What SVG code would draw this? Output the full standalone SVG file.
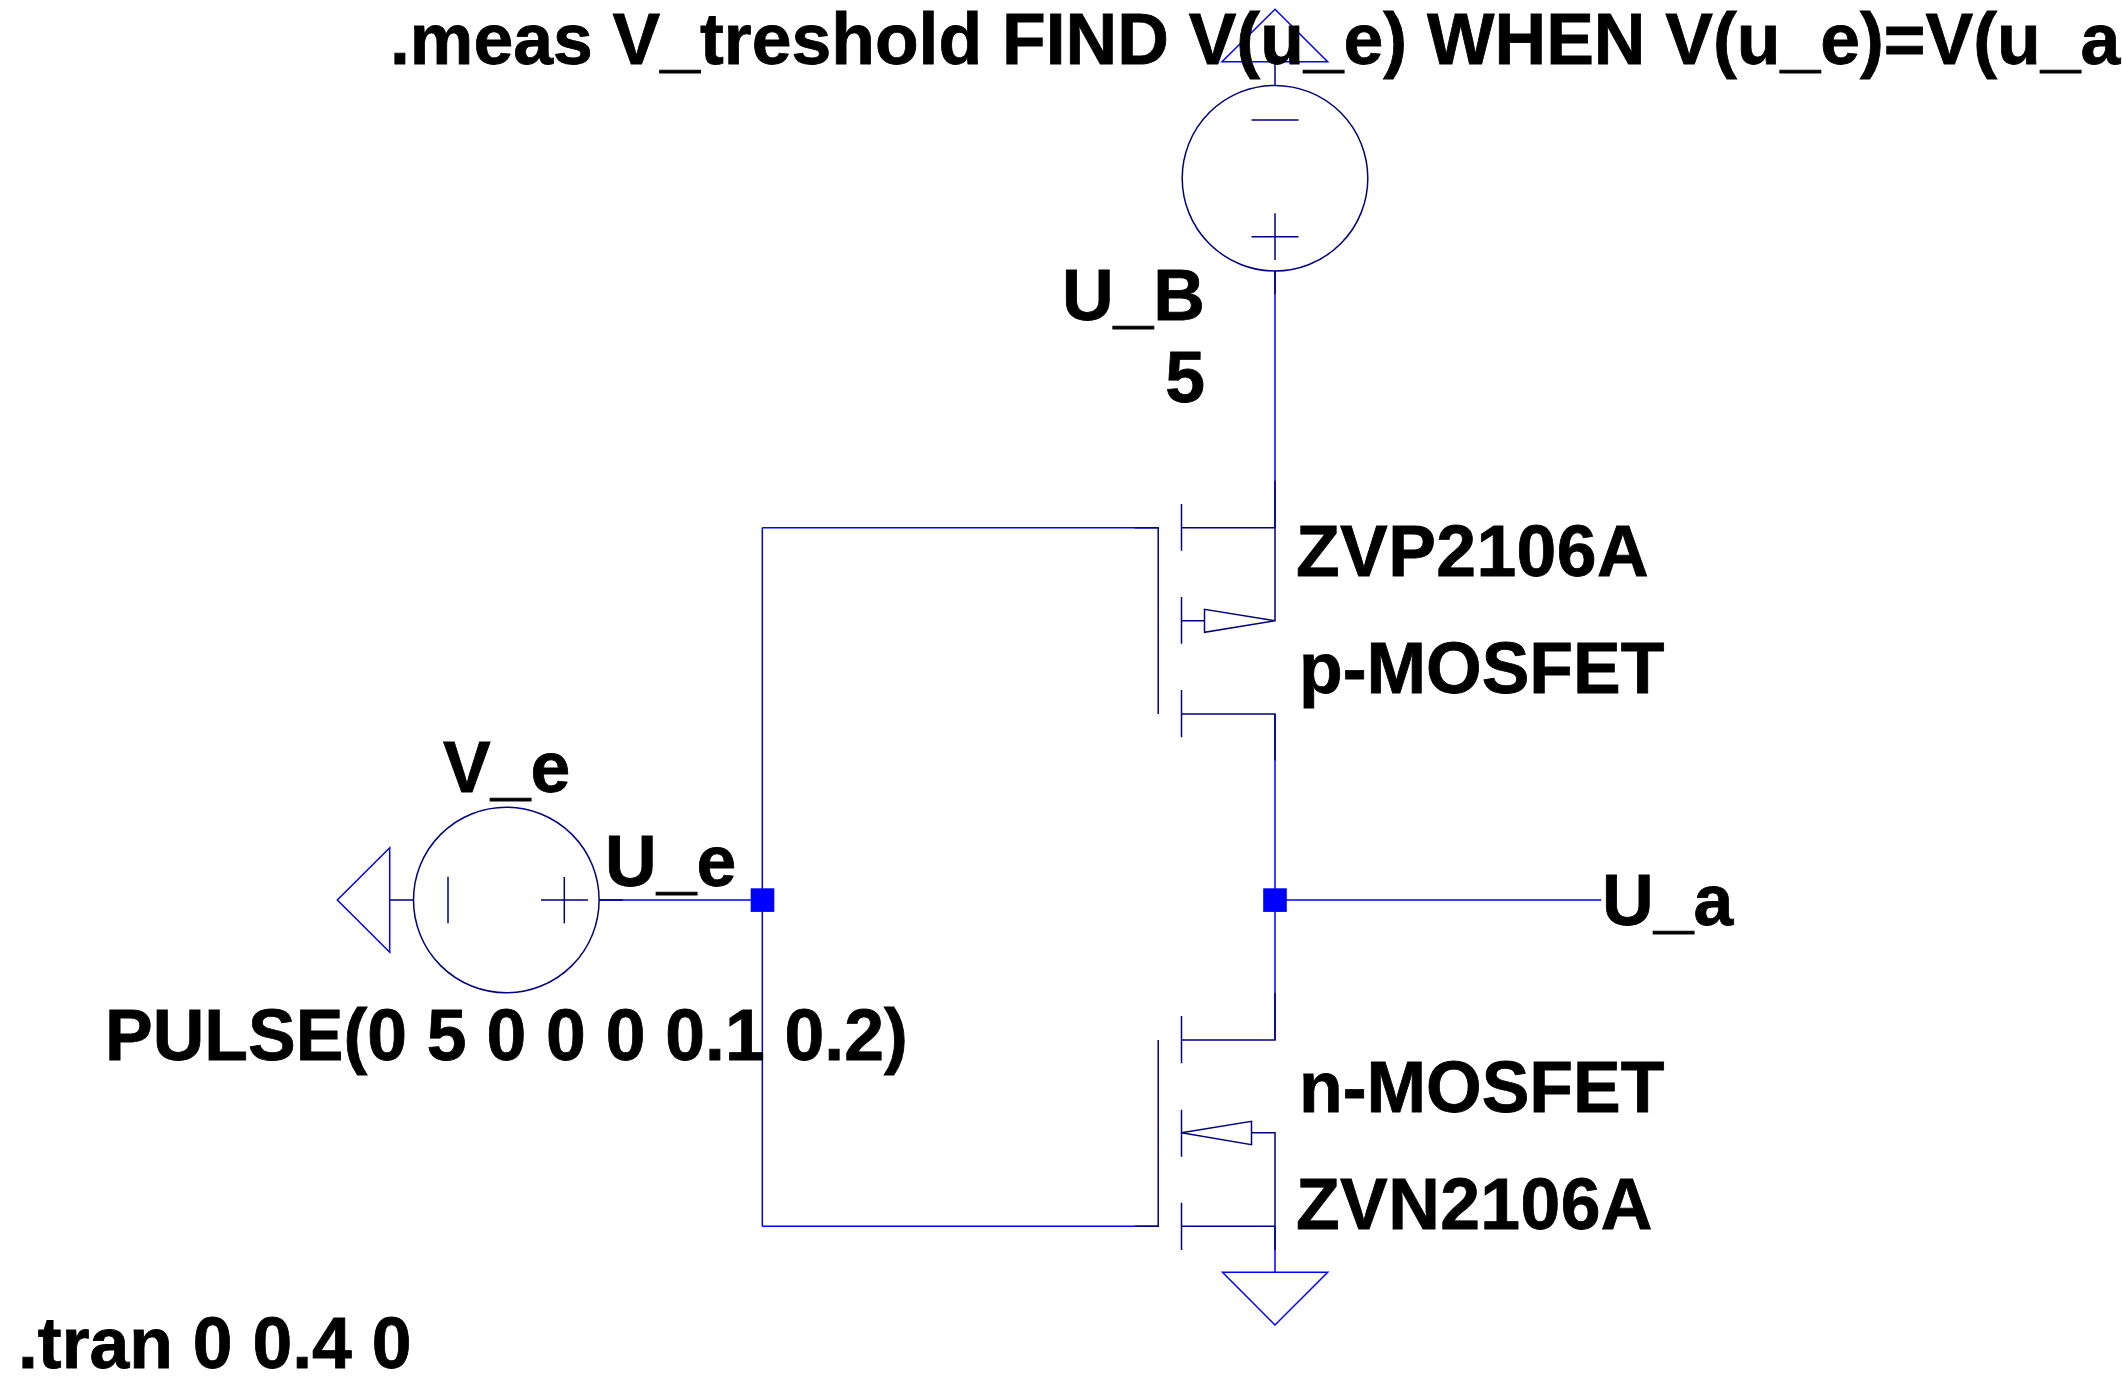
<svg xmlns="http://www.w3.org/2000/svg" width="2122" height="1381" viewBox="0 0 2122 1381">
<style>
.w{fill:none;stroke:#0000ff;stroke-width:1.5}
.c{fill:none;stroke:#000080;stroke-width:1.5}
.j{fill:#0000ff;stroke:none}
text{font-family:"Liberation Sans",Arial,sans-serif;font-weight:700;font-size:71.5px;fill:#000;stroke:#000;stroke-width:.8}
.e{text-anchor:end}
.z{letter-spacing:.4px}
</style>
<rect width="2122" height="1381" fill="#fff"/>
<g id="connectors">
<path class="w" d="M1275 271V527.7M1275 714V1040M1275 1226.3V1272.3M599 900H762.3M762.3 527.7V1226.3M762.3 527.7H1158.2M762.3 1226.3H1158.2M1275 900H1601.3"/>
</g>
<g id="V_UB">
<circle class="c" cx="1275" cy="178.2" r="92.8"/>
<path class="c" d="M1251.5 120H1298.5M1251.5 236.7H1298.5M1275 213.3V260M1275 61.7V85.3M1275 271V294.3"/>
</g>
<g id="gnd_top"><path class="w" d="M1222 61.7H1327.7L1275 9.3Z"/></g>
<g id="V_e">
<circle class="c" cx="506.3" cy="900" r="92.8"/>
<path class="c" d="M448 876.7V923.3M541 900H588M564.3 877V923.3M389.7 900H413.5M599 900H623"/>
</g>
<g id="gnd_left"><path class="w" d="M389.7 847.7V952.3L337.3 900Z"/></g>
<g id="pmos">
<path class="c" d="M1134.7 527.7H1158.2V714M1181.5 504V550.7M1181.5 597V643.7M1181.5 690V737.3M1181.5 527.7H1275M1181.5 620.7H1204.5M1181.5 714H1275V760.5M1275 480.7V620.7L1204.5 609.3V632.3L1275 620.7"/>
</g>
<g id="nmos">
<path class="c" d="M1134.7 1226.3H1158.2V1040M1181.5 1016V1063.3M1181.5 1109.7V1156.7M1181.5 1202.7V1250M1181.5 1040H1275V993M1181.5 1226.3H1275M1275 1250V1132.7H1251.5M1181.5 1132.7L1251.5 1121.3V1144.7Z"/>
</g>
<g id="gnd_bottom"><path class="w" d="M1222.5 1272.3H1327.7L1275 1325Z"/></g>
<g id="junction_e"><rect class="j" x="750.7" y="888.3" width="23.6" height="23.6"/></g>
<g id="junction_a"><rect class="j" x="1263.2" y="888.3" width="23.6" height="23.6"/></g>
<g id="labels">
<text x="390" y="64">.meas V_treshold FIND V(u_e) WHEN V(u_e)=V(u_a</text>
<text class="e" x="1205" y="320">U_B</text>
<text class="e" x="1205" y="402">5</text>
<text class="z" x="1296" y="576">ZVP2106A</text>
<text x="1299" y="692.7">p-MOSFET</text>
<text x="1299" y="1112">n-MOSFET</text>
<text class="z" x="1296" y="1229">ZVN2106A</text>
<text x="1602" y="925">U_a</text>
<text x="443" y="791.7">V_e</text>
<text x="605" y="885.7">U_e</text>
<text x="105" y="1060">PULSE(0 5 0 0 0 0.1 0.2)</text>
<text x="18" y="1367.7">.tran 0 0.4 0</text>
</g>
</svg>
